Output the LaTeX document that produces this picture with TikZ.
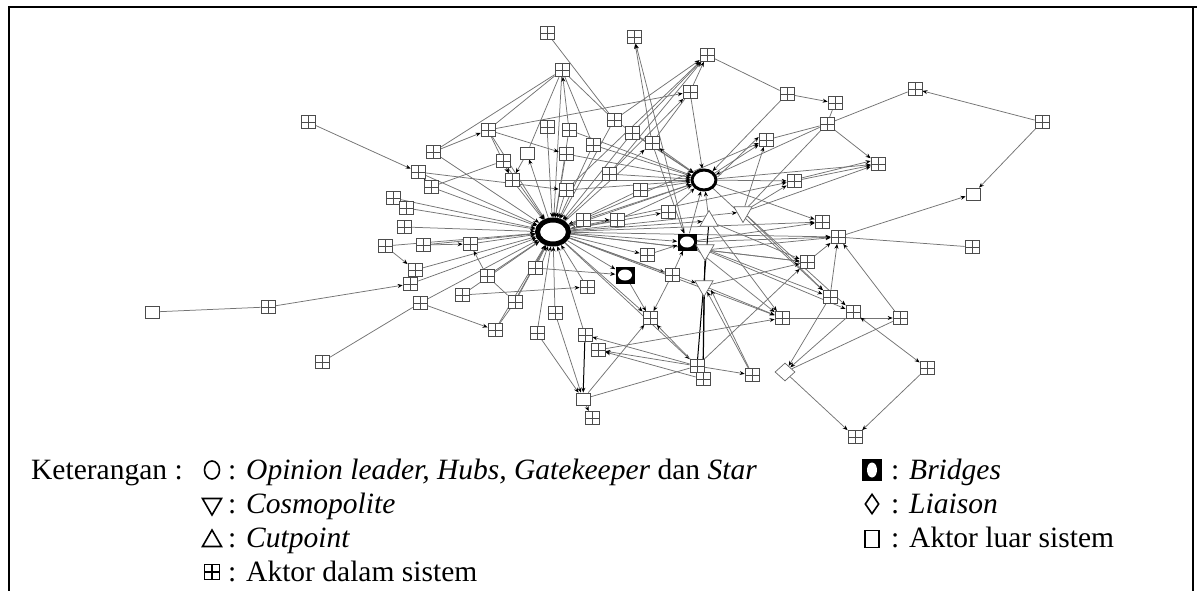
\documentclass[tikz,border=0pt]{standalone}
\usepackage{fontspec}
\setmainfont{Liberation Serif}
\usetikzlibrary{arrows.meta,shapes.geometric}
\pgfdeclarelayer{bg}
\pgfsetlayers{bg,main}
\begin{document}
\begin{tikzpicture}[x=1pt,y=-1pt,
  gn/.style={draw=black!70, fill=white, line width=0.7pt, minimum width=14pt, minimum height=13pt, inner sep=0pt,
    path picture={\draw[black!70,line width=0.7pt] (path picture bounding box.north)--(path picture bounding box.south) (path picture bounding box.west)--(path picture bounding box.east);}},
  pn/.style={draw=black!70, fill=white, line width=0.7pt, minimum width=14pt, minimum height=12pt, inner sep=0pt},
  hubA/.style={ellipse, draw=black, fill=white, line width=5pt, minimum width=31pt, minimum height=24pt, inner sep=0pt},
  hubB/.style={ellipse, draw=black, fill=white, line width=3pt, minimum width=24pt, minimum height=20pt, inner sep=0pt},
  brn/.style={rectangle, fill=black, minimum width=19pt, minimum height=17pt, inner sep=0pt,
    path picture={\fill[white] (path picture bounding box.center) ellipse (7pt and 5.5pt);}},
  upt/.style={regular polygon, regular polygon sides=3, draw=black!60, fill=white, line width=0.7pt, minimum size=21pt, inner sep=0pt},
  dnt/.style={upt, shape border rotate=180},
  lia/.style={diamond, draw=black!60, fill=white, line width=0.7pt, minimum width=20pt, minimum height=18pt, inner sep=0pt},
  ea/.style={draw=black!55, line width=0.75pt, -{Stealth[length=5pt,width=4pt,color=black]}},
  eb/.style={draw=black!55, line width=0.75pt, {Stealth[length=5pt,width=4pt,color=black]}-{Stealth[length=5pt,width=4pt,color=black]}},
  el/.style={draw=black!55, line width=0.75pt},
  ek/.style={draw=black, line width=1pt},
  txt/.style={font=\fontsize{29.5}{33}\selectfont, anchor=base west, inner sep=0pt}
]
\useasboundingbox (0,0) rectangle (1197,591);
% frame
\draw[line width=2pt] (9,591) -- (9,7) -- (1197,7);
\draw[line width=2pt] (1193,7) -- (1193,591);

% grid nodes
\node[gn] (g1) at (547,33) {};
\node[gn] (g2) at (634,37) {};
\node[gn] (g3) at (707,55) {};
\node[gn] (g4) at (562,70) {};
\node[gn] (g5) at (690,92) {};
\node[gn] (g6) at (787,94) {};
\node[gn] (g7) at (835,103) {};
\node[gn] (g8) at (915,89) {};
\node[gn] (g9) at (827,124) {};
\node[gn] (g10) at (1042,122) {};
\node[gn] (g11) at (878,164) {};
\node[gn] (g12) at (308,122) {};
\node[gn] (g13) at (488,130) {};
\node[gn] (g14) at (547,127) {};
\node[gn] (g15) at (569,130) {};
\node[gn] (g16) at (614,120) {};
\node[gn] (g17) at (632,133) {};
\node[gn] (g18) at (652,143) {};
\node[gn] (g19) at (766,140) {};
\node[gn] (g20) at (433,152) {};
\node[gn] (g21) at (418,172) {};
\node[gn] (g22) at (431,187) {};
\node[gn] (g23) at (503,161) {};
\node[gn] (g24) at (566,154) {};
\node[gn] (g25) at (593,145) {};
\node[gn] (g26) at (512,180) {};
\node[gn] (g27) at (566,190) {};
\node[gn] (g28) at (609,174) {};
\node[gn] (g29) at (640,190) {};
\node[gn] (g30) at (794,181) {};
\node[gn] (g31) at (393,198) {};
\node[gn] (g32) at (406,208) {};
\node[gn] (g33) at (404,227) {};
\node[gn] (g34) at (385,246) {};
\node[gn] (g35) at (423,245) {};
\node[gn] (g36) at (470,244) {};
\node[gn] (g37) at (415,270) {};
\node[gn] (g38) at (410,284) {};
\node[gn] (g39) at (487,276) {};
\node[gn] (g40) at (535,268) {};
\node[gn] (g41) at (583,220) {};
\node[gn] (g42) at (617,220) {};
\node[gn] (g43) at (668,212) {};
\node[gn] (g44) at (647,255) {};
\node[gn] (g45) at (672,275) {};
\node[gn] (g46) at (587,287) {};
\node[gn] (g47) at (462,295) {};
\node[gn] (g48) at (515,302) {};
\node[gn] (g49) at (420,303) {};
\node[gn] (g50) at (555,313) {};
\node[gn] (g51) at (650,318) {};
\node[gn] (g52) at (495,330) {};
\node[gn] (g53) at (537,333) {};
\node[gn] (g54) at (585,335) {};
\node[gn] (g55) at (598,350) {};
\node[gn] (g56) at (592,418) {};
\node[gn] (g57) at (268,307) {};
\node[gn] (g58) at (322,362) {};
\node[gn] (g59) at (822,222) {};
\node[gn] (g60) at (838,237) {};
\node[gn] (g61) at (972,247) {};
\node[gn] (g62) at (807,262) {};
\node[gn] (g63) at (830,297) {};
\node[gn] (g64) at (853,312) {};
\node[gn] (g65) at (782,318) {};
\node[gn] (g66) at (900,318) {};
\node[gn] (g67) at (927,368) {};
\node[gn] (g68) at (697,366) {};
\node[gn] (g69) at (703,379) {};
\node[gn] (g70) at (752,375) {};
\node[gn] (g71) at (855,437) {};
% plain squares
\node[pn] (p1) at (527,153) {};
\node[pn] (p2) at (583,399) {};
\node[pn] (p3) at (152,312) {};
\node[pn] (p4) at (973,194) {};
% special
\node[hubA] (h1) at (553,232) {};
\node[hubB] (h2) at (704,180) {};
\node[brn] (b1) at (687,242) {};
\node[brn] (b2) at (625,275) {};
\node[upt] (t1) at (709,221) {};
\node[dnt] (d1) at (743,212) {};
\node[dnt] (d2) at (705,250) {};
\node[dnt] (d3) at (704,286) {};
\node[lia] (L) at (785,372) {};

\begin{pgfonlayer}{bg}
% spokes into h1
\foreach \a in {g4,g13,g14,g15,g16,g17,g20,g21,g22,g23,g24,g25,g26,g27,g28,g29,g31,g32,g33,g34,g35,g36,g37,g38,g39,g40,g47,g48,g49,g50,g52,g53,g54,g41,g42,g46}
  \draw[ea] (\a) -- (h1);
\draw[ea] ([xshift=3pt]g40.south) -- (h1);
\draw[ea] ([xshift=3pt]g48.north) -- (h1);
% from h1 outward
\foreach \b in {p1,h2,b1,b2,g43,g44,g45,g30,g19,g59,g60,g62,d1,t1,d2,d3,g65,g68,g51,g18}
  \draw[ea] (h1) -- (\b);
% spokes into h2
\foreach \a in {g5,g6,g9,g15,g16,g17,g24,g25,g26,g27,g28,g29,g41,g42,g43,t1,b1}
  \draw[ea] (\a) -- (h2);
\foreach \b in {g19,g30,g11,g59,g63}
  \draw[ea] (h2) -- (\b);
\draw[eb] (h2) -- (g18);
\draw[ea] ([yshift=3pt]h2.east) -- ([yshift=3pt]g19.west);
% d1, d2, d3, b1, t1
\foreach \b in {g19,g11,g30,g63,g64} \draw[ea] (d1) -- (\b);
\draw[el] (g9) -- (d1);
\foreach \b in {g60,g62,g64} \draw[ea] (d2) -- (\b);
\foreach \b in {g62,g65} \draw[ea] (d3) -- (\b);
\foreach \b in {g2,g59,g60,g63,g65} \draw[ea] (b1) -- (\b);
\foreach \a in {g44,g45,g18} \draw[ea] (\a) -- (b1);
\foreach \b in {g62,g65} \draw[ea] (t1) -- (\b);
\draw[ek] (t1) -- (g68);
\draw[ek] (d2) -- (g69);
\draw[ek] (d3) -- (g69);
\draw[ea] (g70) -- (d3);
\draw[ea] ([xshift=-3pt]g70.north) -- ([xshift=3pt]d3.south east);
% lower middle
\foreach \b in {g62,g55,g54,g51,g70} \draw[ea] (g68) -- (\b);
\draw[ea] (g69) -- (g55);
\draw[ea] (g53) -- (p2);
\draw[ea] (g50) -- (p2);
\draw[ek,-{Stealth[length=5pt,width=4pt]}] (g54) -- (p2);
\draw[ea] (p2) -- (g56);
\draw[ea] (p2) -- (g51);
\draw[el] (p2) -- (g68);
\draw[ea] (g55) -- (g65);
\draw[ea] (g65) -- (g66);
\draw[ea] (b2) -- (g51);
\draw[ea] (g45) -- (g51);
\draw[ea] (g40) -- (b2);
\draw[ea] (g47) -- (g46);
% left
\draw[ea] (g49) -- (g52);
\draw[el] (g58) -- (g49);
\draw[ea] (g57) -- (g38);
\draw[el] (p3) -- (g57);
\draw[ea] (g34) -- (g37);
\draw[ea] (g35) -- (g36);
\draw[ea] (g39) -- (g36);
\draw[el] (g39) -- (g48);
\draw[el] (g52) -- (g48);
\draw[ea] (g12) -- (g21);
\draw[ea] (g22) -- (g21);
\draw[ea] (g20) -- (g13);
\draw[el] (g20) -- (g4);
\draw[el] (g4) -- (p1);
\draw[ea] (g15) -- (g4);
\draw[el] (g4) -- (g25);
\draw[el] (g4) -- (g16);
\draw[el] (g4) -- (g13);
\draw[ea] (g13) -- (g26);
\draw[ea] (g13) -- (g24);
\draw[ea] (p1) -- (g26);
\draw[ea] (g23) -- (g26);
\draw[el] (g23) -- (g22);
\draw[ea] (g21) -- (g27);
% top
\draw[el] (g1) -- (g16);
\draw[ea] (g18) -- (g2);
\draw[ea] (g13) -- (g5);
\draw[el] (g3) -- (g6);
\draw[ea] (g5) -- (g3);
\foreach \a in {g16,g17,g27,g28} \draw[ea] (\a) -- (g3);
\draw[ea] (g28) -- (g5);
\draw[el] (g5) -- (g18);
\draw[ea] (g41) -- (g42);
% right
\draw[ea] (g6) -- (g7);
\draw[el] (g9) -- (g8);
\draw[el] (g7) -- (g9);
\draw[ea] (g9) -- (g11);
\draw[ea] (g10) -- (g8);
\draw[ea] (g10) -- (p4);
\draw[ea] (g60) -- (p4);
\draw[el] (g60) -- (g61);
\draw[ea] (g62) -- (g60);
\draw[ea] (g63) -- (g60);
\draw[ea] (g66) -- (g60);
\draw[ea] (g30) -- (g11);
\draw[ea] ([yshift=3pt]g30.east) -- ([yshift=3pt]g11.west);
\draw[el] (g19) -- (g9);
\draw[ea] (g63) -- (L);
\draw[ea] (g64) -- (L);
\draw[el] (g66) -- (L);
\draw[eb] (g64) -- (g67);
\draw[ea] (g67) -- (g71);
\draw[ea] (L) -- (g71);
\end{pgfonlayer}

% legend
\node[txt] (k) at (31,479) {Keterangan :};
\node[ellipse, draw=black, line width=1.6pt, minimum width=15pt, minimum height=18pt, inner sep=0pt] (s1) at (212,470) {};
\node[txt] (l1) at (228,479) {: \textit{Opinion leader, Hubs, Gatekeeper} dan \textit{Star}};
\node[regular polygon, regular polygon sides=3, shape border rotate=180, draw=black, line width=1.6pt, minimum size=22pt, inner sep=0pt] (s2) at (212,504) {};
\node[txt] (l2) at (228,513) {: \textit{Cosmopolite}};
\node[regular polygon, regular polygon sides=3, draw=black, line width=1.6pt, minimum size=22pt, inner sep=0pt] (s3) at (212,541) {};
\node[txt] (l3) at (228,547) {: \textit{Cutpoint}};
\node[draw=black, line width=1.5pt, minimum width=15pt, minimum height=15pt, inner sep=0pt,
  path picture={\draw[line width=1.5pt] (path picture bounding box.north)--(path picture bounding box.south) (path picture bounding box.west)--(path picture bounding box.east);}] (s4) at (212,572) {};
\node[txt] (l4) at (228,581) {: Aktor dalam sistem};
\node[rectangle, fill=black, minimum width=20pt, minimum height=22pt, inner sep=0pt,
  path picture={\fill[white] (path picture bounding box.center) ellipse (5pt and 7.5pt);}] (s5) at (872,470) {};
\node[txt] (l5) at (891,479) {: \textit{Bridges}};
\node[diamond, draw=black, line width=1.6pt, minimum width=14pt, minimum height=20pt, inner sep=0pt] (s6) at (872,504) {};
\node[txt] (l6) at (891,513) {: \textit{Liaison}};
\node[draw=black, line width=1.6pt, minimum width=14pt, minimum height=17pt, inner sep=0pt] (s7) at (872,539) {};
\node[txt] (l7) at (891,547) {: Aktor luar sistem};
\end{tikzpicture}
\end{document}
